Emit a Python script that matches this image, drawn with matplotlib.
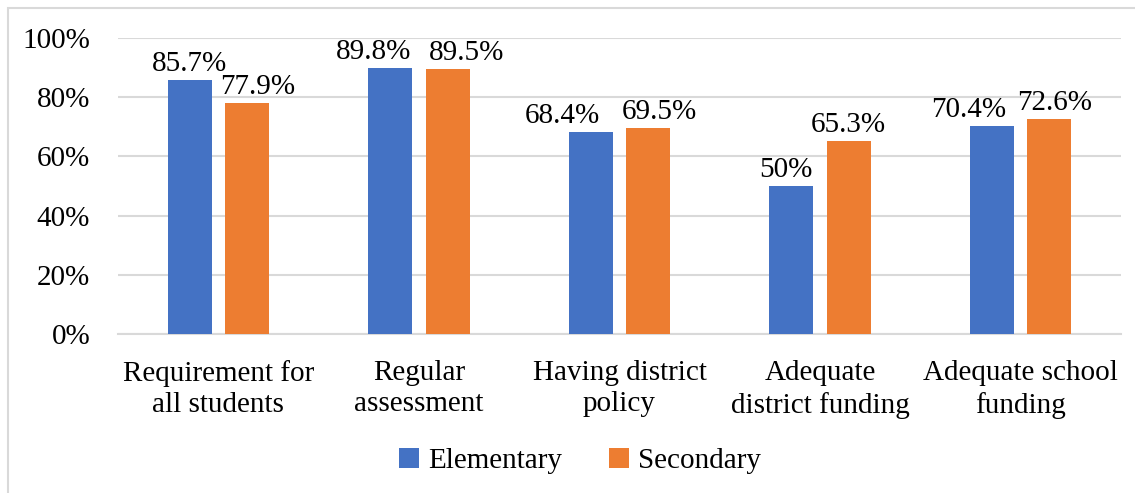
import matplotlib.pyplot as plt
from matplotlib.patches import Rectangle

categories = ["Requirement for\nall students", "Regular\nassessment",
              "Having district\npolicy", "Adequate\ndistrict funding",
              "Adequate school\nfunding"]
elementary = [85.7, 89.8, 68.4, 50.0, 70.4]
secondary = [77.9, 89.5, 69.5, 65.3, 72.6]
elementary_labels = ["85.7%", "89.8%", "68.4%", "50%", "70.4%"]
secondary_labels = ["77.9%", "89.5%", "69.5%", "65.3%", "72.6%"]

# sideways nudges (pixels) so neighbouring value labels don't collide
elem_nudge = [0, -17, -28, -6, -23]
sec_nudge = [11, 19, 11, 0, 5]

BLUE = "#4472C4"
ORANGE = "#ED7D31"
GRID = "#D9D9D9"

plt.rcParams["font.family"] = ["Liberation Serif", "DejaVu Serif"]
plt.rcParams["font.size"] = 21

fig = plt.figure(figsize=(11.35, 4.93), dpi=100)
ax = fig.add_axes([118 / 1135, 1 - 334 / 493, (1121 - 118) / 1135, (334 - 38) / 493])

# light frame round the chart area
fig.patches.append(Rectangle((8 / 1135, -0.1), 1.2, 1 - 8 / 493 + 0.1,
                             transform=fig.transFigure, fill=False,
                             edgecolor=GRID, linewidth=1.5))

x = range(len(categories))
w = 0.22
off = 0.143
b1 = ax.bar([i - off for i in x], elementary, w, color=BLUE, label="Elementary", zorder=3)
b2 = ax.bar([i + off for i in x], secondary, w, color=ORANGE, label="Secondary", zorder=3)

for bars, labels, nudge in ((b1, elementary_labels, elem_nudge), (b2, secondary_labels, sec_nudge)):
    for bar, lab, dx in zip(bars, labels, nudge):
        ax.annotate(lab, (bar.get_x() + bar.get_width() / 2, bar.get_height()),
                    xytext=(dx, 3), textcoords="offset pixels",
                    ha="center", va="bottom", fontsize=21, zorder=4)

ax.set_xlim(-0.5, 4.5)
ax.set_ylim(0, 100)
ax.set_yticks(range(0, 101, 20))
ax.set_yticklabels([f"{v}%" for v in range(0, 101, 20)])
ax.set_xticks(list(x))
ax.set_xticklabels(categories, linespacing=1.25)
ax.tick_params(axis="both", length=0)
ax.tick_params(axis="y", pad=20)
ax.tick_params(axis="x", pad=19)
ax.grid(axis="y", color=GRID, linewidth=1.5, zorder=0)
for s in ("top", "right", "left"):
    ax.spines[s].set_visible(False)
ax.spines["bottom"].set_color(GRID)
ax.spines["bottom"].set_linewidth(1.5)

fig.legend(handles=[b1, b2], loc="center", bbox_to_anchor=(580 / 1135, 1 - 461 / 493),
           ncol=2, frameon=False, handlelength=0.7, handleheight=0.7,
           handletextpad=0.3, columnspacing=1.6, fontsize=21)

fig.savefig("out.png", dpi=100)
